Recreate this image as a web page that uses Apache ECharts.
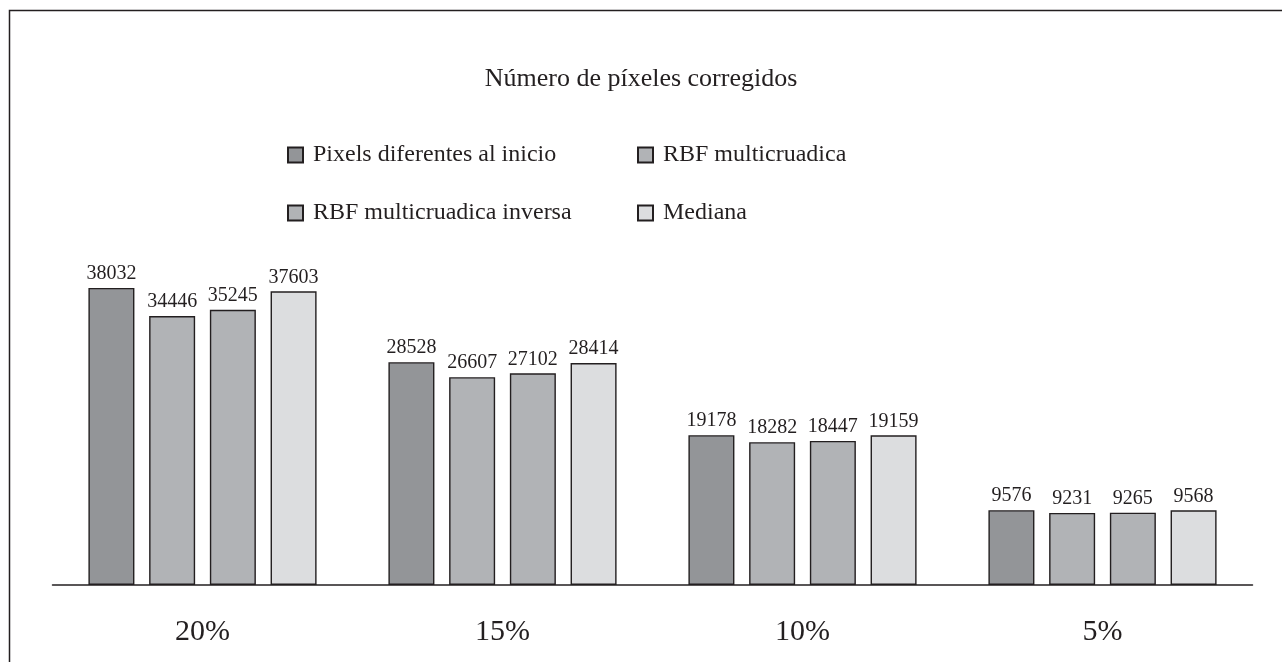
<!DOCTYPE html>
<html>
<head>
<meta charset="utf-8">
<script src="https://cdn.jsdelivr.net/npm/echarts@6/dist/echarts.min.js"></script>
<style>html,body{margin:0;padding:0;background:#fff}#c{width:1282px;height:662px}</style>
</head>
<body>
<div id="c"></div>
<script>
const categories = ['20%', '15%', '10%', '5%'];
const seriesNames = ['Pixels diferentes al inicio', 'RBF multicruadica', 'RBF multicruadica inversa', 'Mediana'];
const pixelsInicio = [38032, 28528, 19178, 9576];
const rbfMulti = [34446, 26607, 18282, 9231];
const rbfMultiInversa = [35245, 27102, 18447, 9265];
const mediana = [37603, 28414, 19159, 9568];
const colors = ['#939598', '#b1b3b6', '#b1b3b6', '#dcdddf'];
const FONT = 'Liberation Serif';
const seriesData = [pixelsInicio, rbfMulti, rbfMultiInversa, mediana];
const legendPos = [[287, 143], [637, 143], [287, 201], [637, 201]];

const chart = echarts.init(document.getElementById('c'));
chart.setOption({
  animation: false,
  title: {
    text: 'Número de píxeles corregidos', left: 'center', top: 61,
    textStyle: { fontFamily: FONT, fontSize: 26, fontWeight: 'normal', color: '#231f20' }
  },
  legend: seriesNames.map((n, i) => ({
    data: [n], left: legendPos[i][0], top: legendPos[i][1], itemWidth: 15, itemHeight: 15,
    icon: 'rect', selectedMode: false, padding: 0,
    textStyle: { fontFamily: FONT, fontSize: 24, color: '#231f20', padding: [0, 0, 0, 5] }
  })),
  grid: { left: 52.5, right: 29.5, top: 272.6, bottom: 662 - 585 },
  xAxis: {
    type: 'category', data: categories,
    axisLine: { lineStyle: { color: '#231f20', width: 1.5 } },
    axisTick: { show: false },
    axisLabel: { fontFamily: FONT, fontSize: 30, color: '#231f20', margin: 32 }
  },
  yAxis: { type: 'value', min: 0, max: 40000, show: false, splitLine: { show: false } },
  graphic: [{
    type: 'rect', shape: { x: 9.5, y: 10.5, width: 1300, height: 700 },
    style: { fill: 'none', stroke: '#231f20', lineWidth: 1.5 }, silent: true
  }],
  series: seriesNames.map((n, i) => ({
    name: n, type: 'bar', data: seriesData[i],
    barWidth: 46, barGap: '32%',
    itemStyle: { color: colors[i], borderColor: '#231f20', borderWidth: 1.4 },
    label: { show: true, position: 'top', distance: 4, fontFamily: FONT, fontSize: 20, color: '#231f20' }
  }))
});
</script>
</body>
</html>
